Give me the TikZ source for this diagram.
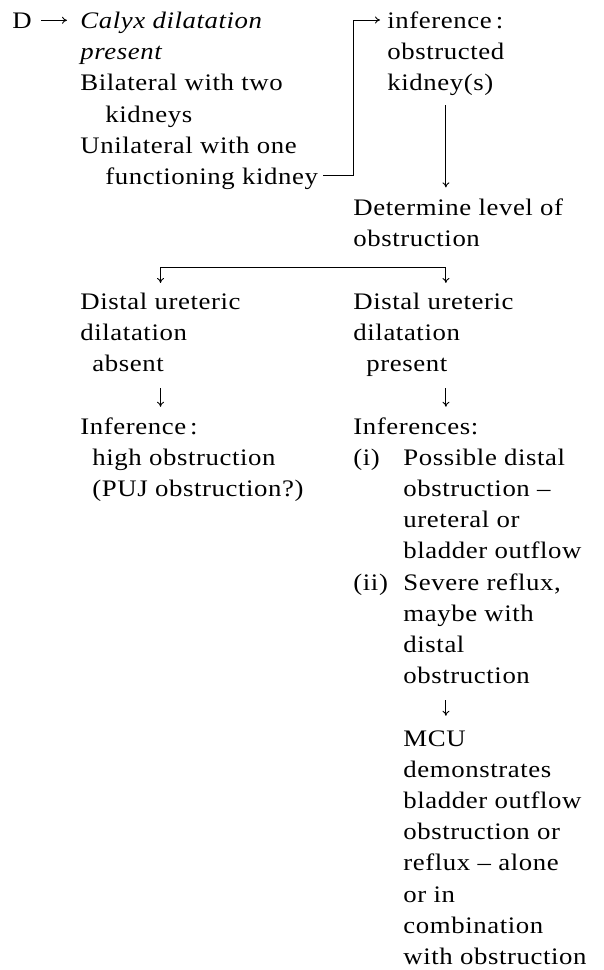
\documentclass[tikz,border=0pt]{standalone}
\usepackage{fontspec}
\setmainfont{Liberation Serif}[FakeStretch=1.13, LetterSpace=2.5]
\usetikzlibrary{arrows.meta}
\newcommand{\flowfont}{\fontsize{23.7}{31.2}\selectfont}
\begin{document}
\begin{tikzpicture}[x=1pt, y=-1pt, >={To[length=5pt,width=7pt]}, line width=0.9pt,
    txt/.style={anchor=north west, inner sep=0pt, align=left, font=\flowfont},
    word/.style={anchor=base west, inner sep=0pt, font=\flowfont}]
  \useasboundingbox (0,0) rectangle (603,970);

  % ---- upper part ----
  \node[word] (d) at (12,28) {D};
  \node[txt] (calyx) at (80,6.16) {\strut\textit{Calyx dilatation}\\
    \textit{present}\\
    Bilateral with two\\
    \hspace*{25pt}kidneys\\
    Unilateral with one\\
    \hspace*{25pt}functioning kidney};
  \node[txt] (infer) at (387,6.16) {\strut inference\,:\\obstructed\\kidney(s)};
  \node[txt] (det) at (353,193.36) {\strut Determine level of\\obstruction};

  % ---- two branches ----
  \node[txt] (left) at (80,286.96) {\strut Distal ureteric\\dilatation\\\hspace*{12pt}absent};
  \node[txt] (right) at (353,286.96) {\strut Distal ureteric\\dilatation\\\hspace*{13pt}present};
  \node[txt] (linf) at (80,411.76) {\strut Inference\,:\\
    \hspace*{12pt}high obstruction\\
    \hspace*{12pt}(PUJ obstruction?)};
  \node[txt] (rinf) at (353,411.76) {\strut Inferences:\\
    \makebox[50pt][l]{(i)}Possible distal\\
    \hspace*{50pt}obstruction --\\
    \hspace*{50pt}ureteral or\\
    \hspace*{50pt}bladder outflow\\
    \makebox[50pt][l]{(ii)}Severe reflux,\\
    \hspace*{50pt}maybe with\\
    \hspace*{50pt}distal\\
    \hspace*{50pt}obstruction};
  \node[txt] (mcu) at (403,723.76) {\strut MCU\\
    demonstrates\\
    bladder outflow\\
    obstruction or\\
    reflux -- alone\\
    or in\\
    combination\\
    with obstruction};

  % ---- arrows ----
  \draw[->] ([xshift=9pt]d.east) -- ([xshift=-13pt]d.east -| calyx.west);
  \draw[->] ([xshift=5pt]calyx.east |- 0,175) -- (353,175) |- ([xshift=-7pt]infer.west |- 0,20);
  \draw[->] ([yshift=-9pt]infer.south) -- ([yshift=6pt]infer.south |- det.north);
  \coordinate (fork) at ([yshift=-20pt]det.south -| infer.south);
  \draw[->] (fork) -| ([yshift=4pt]left.north);
  \draw[->] (fork) -- ([yshift=4pt]fork |- right.north);
  \draw[->] ([yshift=-16pt]left.south) -- ([yshift=5pt]left.south |- linf.north);
  \draw[->] ([yshift=-11pt]right.south -| fork) -- ([yshift=5pt]rinf.north -| fork);
  \draw[->] ([yshift=-16pt]rinf.south -| fork) -- ([yshift=8pt]mcu.north -| fork);
\end{tikzpicture}
\end{document}
